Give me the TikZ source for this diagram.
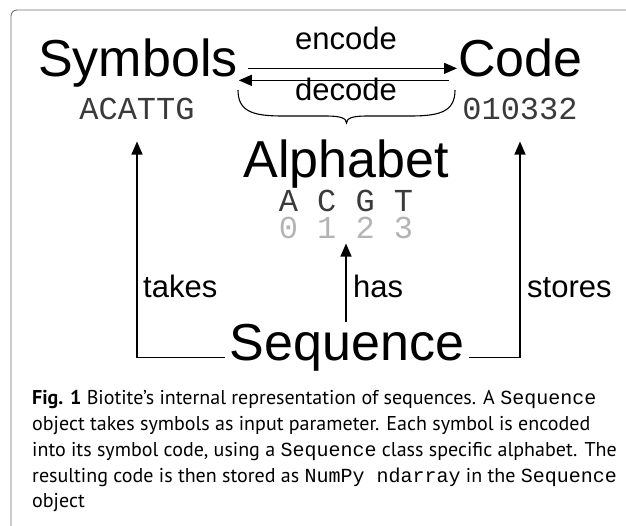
\documentclass[tikz,border=0pt]{standalone}
\usepackage{fontspec}
\setmainfont{Liberation Sans}
\setmonofont{Liberation Mono}
\newfontfamily\capfont{PT Sans}
\usetikzlibrary{arrows.meta,positioning,calc}
\definecolor{FR}{HTML}{6E6E6E}
\definecolor{NM}{HTML}{B4B4B4}
\definecolor{SQ}{HTML}{3A3A3A}
\tikzset{
  bigword/.style={font=\fontsize{52}{52}\selectfont, inner sep=1pt},
  verb/.style={font=\fontsize{31}{31}\selectfont, inner sep=1pt},
  monotext/.style={font=\ttfamily\fontsize{32}{32}\selectfont, text=SQ, inner sep=1pt},
  link/.style={line width=1.3pt},
  arr/.style={link, -{Triangle[length=13pt,width=11pt]}},
}

\begin{document}
\begin{tikzpicture}[x=1pt, y=-1pt]

        \useasboundingbox (0,0) rectangle (626,526);
        \clip (0,0) rectangle (626,526);

        %% ── frame (open to the right and bottom) ──────
        \draw[FR, line width=0.9pt, rounded corners=6pt]
          (11,560) |- (660,10);

        %% ── top row ───────────────────────────────────
        \node[bigword, anchor=base west] (symbols) at (37,77) {Symbols};
        \node[bigword, anchor=base west] (code) at (457,77) {Code};
        \node[verb, anchor=base] (encode) at (346,50) {encode};
        \node[verb, anchor=base] (decode) at (346,101) {decode};
        \node[monotext, anchor=base] (symseq) at (137,120) {ACATTG};
        \node[monotext, anchor=base] (codeseq) at (520,120) {010332};

        %% encode / decode
        \draw[arr] ([xshift=9pt, yshift=6pt]symbols.mid east)
          -- ([yshift=6pt]code.mid west);
        \draw[arr] ([xshift=-8pt, yshift=-6pt]code.mid west)
          -- ([yshift=-6pt]symbols.mid east);

        %% brace under decode
        \coordinate (brl) at (238,90);
        \coordinate (brr) at (455,90);
        \coordinate (brm) at (346.5,123);
        \draw[line width=1.1pt]
          (brl) .. controls (238,111) and (252,116) .. (282,116)
          -- (326,116) .. controls (340,116) and (346.5,118) .. (brm)
          .. controls (346.5,118) and (353,116) .. (367,116)
          -- (411,116) .. controls (441,116) and (455,111) .. (brr);

        %% ── alphabet ──────────────────────────────────
        \node[bigword, anchor=base] (alphabet) at (346,178) {Alphabet};
        \node[monotext, anchor=base, inner sep=0pt] (letters) at (346,212) {A C G T};
        \node[monotext, anchor=base, inner sep=0pt, text=NM] (numbers) at (346,239) {0 1 2 3};

        %% ── sequence and its links ────────────────────
        \node[bigword, anchor=base] (sequence) at (347,360) {Sequence};

        \draw[arr] ([xshift=-4pt]sequence.mid west)
          -| ([yshift=-20pt]symseq.south);
        \draw[arr] ([xshift=4pt]sequence.mid east)
          -| ([yshift=-20pt]codeseq.south);
        \draw[arr] (sequence.north -| numbers.south)
          -- ([yshift=-4pt]numbers.south);

        \node[verb, anchor=base west] (takes) at (142,298) {takes};
        \node[verb, anchor=base west] (has) at (352,298) {has};
        \node[verb, anchor=base west] (stores) at (526,298) {stores};

        %% ── caption ───────────────────────────────────
        \node[anchor=north west, align=left, inner sep=0pt,
              font=\capfont\fontsize{20}{25.75}\selectfont]
          (caption) at (32,390.5)
          {\textbf{Fig. 1} Biotite’s internal representation of sequences. A \texttt{Sequence}\\
           object takes symbols as input parameter. Each symbol is encoded\\
           into its symbol code, using a \texttt{Sequence} class specific alphabet. The\\
           resulting code is then stored as \texttt{NumPy ndarray} in the \texttt{Sequence}\\
           object};

\end{tikzpicture}
\end{document}
